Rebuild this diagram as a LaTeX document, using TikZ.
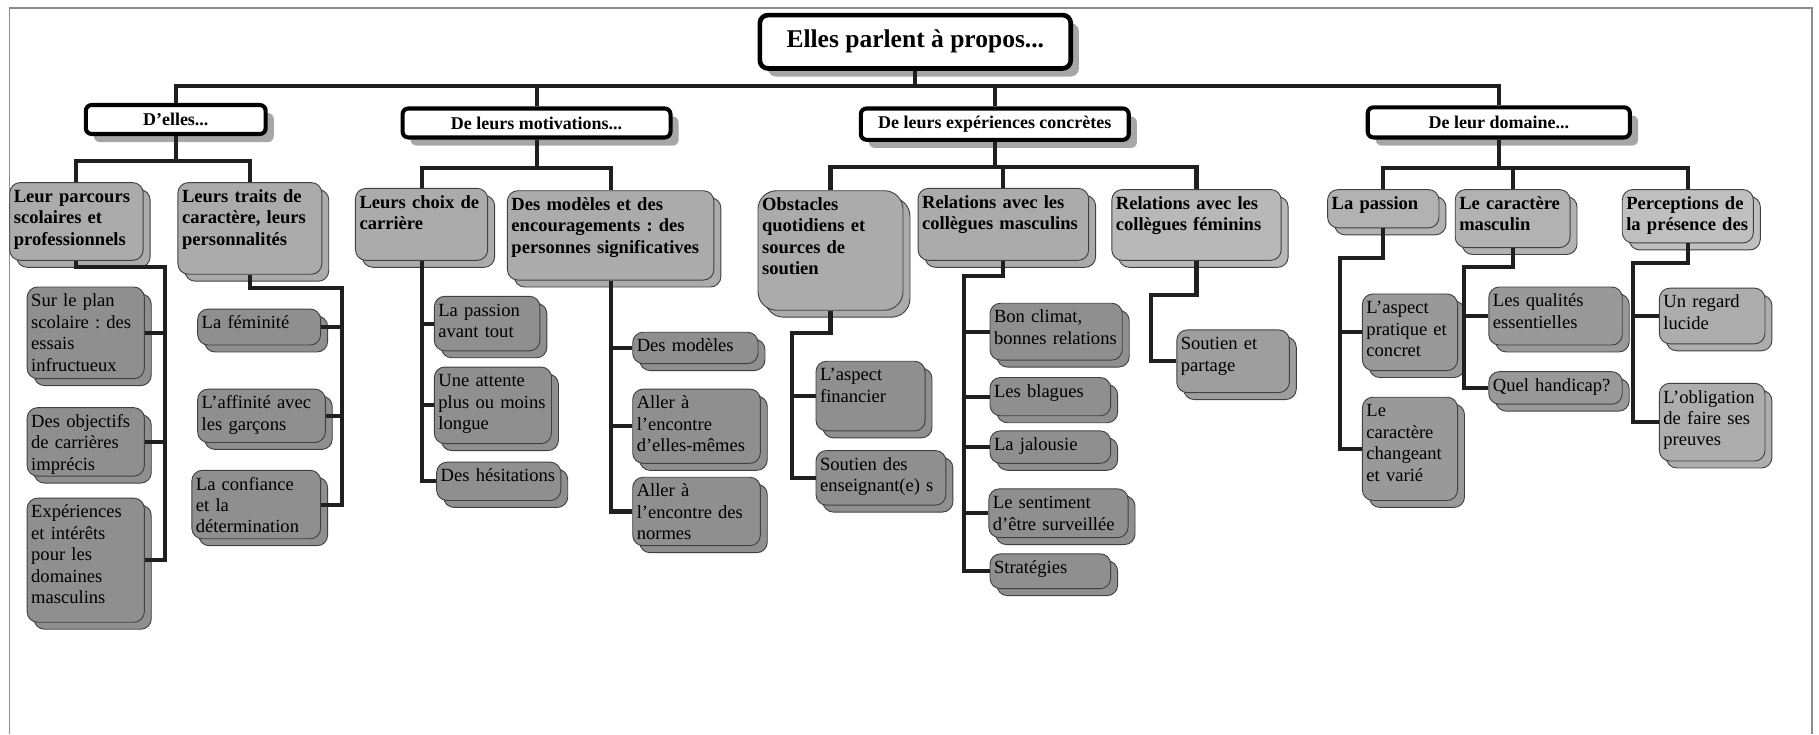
\documentclass[tikz,border=0pt]{standalone}
\usepackage{fontspec}
\setmainfont{Liberation Serif}
\usepackage{tikz}
\usetikzlibrary{shadows,positioning}
\frenchspacing

\tikzset{
  head/.style={draw=black, line width=4pt, rounded corners=7pt, fill=white, inner sep=0pt,
    font=\bfseries\fontsize{22}{24}\selectfont,
    drop shadow={shadow xshift=7pt, shadow yshift=-7pt, fill=black!35, opacity=1}},
  theme/.style={head, line width=3.5pt, rounded corners=5pt, font=\bfseries\fontsize{15.5}{17}\selectfont},
  topic/.style={draw=black!75, line width=0.8pt, fill=black!33, rounded corners=9pt, anchor=north west,
    align=left, inner sep=3.5pt, text height=13.5pt, font=\bfseries\fontsize{16}{18.5}\selectfont,
    copy shadow={shadow xshift=6pt, shadow yshift=-6pt}},
  leaf/.style={topic, fill=black!44, font=\fontsize{16}{18.5}\selectfont},
  link/.style={line width=3.5pt, black!88},
  frame/.style={line width=1.2pt, black!45}
}

\begin{document}
\begin{tikzpicture}[x=1pt,y=-1pt]
    \useasboundingbox (0,0) rectangle (1568,633);
    \draw[frame] (8,633) -- (8,7) -- (1562,7) -- (1562,633);

    \node[head, minimum width=268pt, minimum height=46pt] (top) at (789,36) {Elles parlent à propos...};

    \node[theme, minimum width=155pt, minimum height=25pt] (delles) at (151.5,103) {D'elles...};
    \node[theme, minimum width=231pt, minimum height=25pt] (motiv) at (462.5,106) {De leurs motivations...};
    \node[theme, minimum width=231pt, minimum height=27pt] (concr) at (857.5,107) {De leurs expériences concrètes};
    \node[theme, minimum width=226pt, minimum height=26pt] (domaine) at (1292,105.5) {De leur domaine...};

    \node[topic, text width=108pt, text depth=46.5pt] (parcours) at (8,157) {Leur parcours\\scolaires et\\professionnels};
    \node[topic, text width=117pt, text depth=58.5pt] (traits) at (153,157) {Leurs traits de\\caractère, leurs\\personnalités};
    \node[topic, text width=107pt, text depth=41.5pt] (choix) at (306,162) {Leurs choix de\\carrière};
    \node[topic, text width=171pt, text depth=56.5pt] (modeles) at (437,164) {Des modèles et des\\encouragements : des\\personnes significatives};
    \node[topic, text width=118pt, text depth=82.5pt, rounded corners=16pt] (obstacles) at (653,164) {Obstacles\\quotidiens et\\sources de\\soutien};
    \node[topic, text width=140pt, text depth=41.5pt] (relmasc) at (791,162) {Relations avec les\\collègues masculins};
    \node[topic, text width=139pt, text depth=40.5pt, fill=black!28] (relfem) at (958,163) {Relations avec les\\collègues féminins};
    \node[topic, text width=89pt, text depth=12.5pt, fill=black!30] (passion) at (1144,163) {La passion};
    \node[topic, text width=92pt, text depth=29.5pt, fill=black!30] (carmasc) at (1254,163) {Le caractère\\masculin};
    \node[topic, text width=106pt, text depth=25.5pt, fill=black!25] (percep) at (1398,163) {Perceptions de\\la présence des};

    \node[leaf, text width=94pt, text depth=58.5pt] (plan) at (23,247) {Sur le plan\\scolaire : des\\essais\\infructueux};
    \node[leaf, text width=94pt, text depth=38.5pt] (objectifs) at (23,351) {Des objectifs\\de carrières\\imprécis};
    \node[leaf, text width=94pt, text depth=86.5pt] (experiences) at (23,429) {Expériences\\et intérêts\\pour les\\domaines\\masculins};

    \node[leaf, text width=99pt, text depth=10.5pt] (feminite) at (170,266) {La féminité};
    \node[leaf, text width=103pt, text depth=25.5pt] (affinite) at (170,335) {L'affinité avec\\les garçons};
    \node[leaf, text width=104pt, text depth=38.5pt] (confiance) at (165,405) {La confiance\\et la\\détermination};

    \node[leaf, text width=84pt, text depth=26.5pt] (passav) at (374,255) {La passion\\avant tout};
    \node[leaf, text width=94pt, text depth=45.5pt] (attente) at (374,316) {Une attente\\plus ou moins\\longue};
    \node[leaf, text width=100pt, text depth=12.5pt] (hesit) at (376,398) {Des hésitations};

    \node[leaf, text width=101pt, text depth=6.5pt] (dmodeles) at (545,286) {Des modèles};
    \node[leaf, text width=103pt, text depth=43.5pt] (soimeme) at (545,335) {Aller à\\l'encontre\\d'elles-mêmes};
    \node[leaf, text width=103pt, text depth=38.5pt] (normes) at (545,411) {Aller à\\l'encontre des\\normes};

    \node[leaf, text width=87pt, text depth=39.5pt] (financier) at (703,311) {L'aspect\\financier};
    \node[leaf, text width=105pt, text depth=26.5pt] (enseign) at (703,388) {Soutien des\\enseignant(e) s};

    \node[leaf, text width=107pt, text depth=28.5pt] (climat) at (853,261) {Bon climat,\\bonnes relations};
    \node[leaf, text width=97pt, text depth=12.5pt] (blagues) at (853,325) {Les blagues};
    \node[leaf, text width=97pt, text depth=7.5pt] (jalousie) at (853,371) {La jalousie};
    \node[leaf, text width=113pt, text depth=21.5pt] (surveil) at (852,421) {Le sentiment\\d'être surveillée};
    \node[leaf, text width=97pt, text depth=9.5pt] (strat) at (853,477) {Stratégies};

    \node[leaf, text width=90pt, text depth=33.5pt, fill=black!38] (partage) at (1014,284) {Soutien et\\partage};

    \node[leaf, text width=75pt, text depth=45.5pt, fill=black!40] (pratique) at (1174,253) {L'aspect\\pratique et\\concret};
    \node[leaf, text width=75pt, text depth=68.5pt, fill=black!40] (changeant) at (1174,342) {Le\\caractère\\changeant\\et varié};
    \node[leaf, text width=108pt, text depth=29.5pt, fill=black!40] (qualites) at (1283,247) {Les qualités\\essentielles};
    \node[leaf, text width=108pt, text depth=7.5pt, fill=black!40] (handicap) at (1283,320) {Quel handicap?};
    \node[leaf, text width=84pt, text depth=27.5pt, fill=black!32] (regard) at (1430,248) {Un regard\\lucide};
    \node[leaf, text width=84pt, text depth=46.5pt, fill=black!32] (preuves) at (1430,330) {L'obligation\\de faire ses\\preuves};

    \coordinate (bus) at (789,74);
    \foreach \t in {delles,motiv,concr,domaine}
        \draw[link] (top.south) |- (bus) -| (\t.north);

    \coordinate (b1) at (151.5,139);
    \coordinate (b2) at (462.5,145);
    \coordinate (b3) at (857.5,144);
    \coordinate (b4) at (1292,145);
    \foreach \c in {parcours,traits} \draw[link] (delles.south) |- (b1) -| (\c.north);
    \foreach \c in {choix,modeles} \draw[link] (motiv.south) |- (b2) -| (\c.north);
    \foreach \c in {obstacles,relmasc,relfem} \draw[link] (concr.south) |- (b3) -| (\c.north);
    \foreach \c in {passion,carmasc,percep} \draw[link] (domaine.south) |- (b4) -| (\c.north);

    \coordinate (k1) at (142,230);
    \coordinate (k2) at (295,248);
    \coordinate (k3) at (683,287);
    \coordinate (k4) at (831,238);
    \coordinate (k5) at (992,254);
    \coordinate (k6) at (1155,222);
    \coordinate (k7) at (1262,230);
    \coordinate (k8) at (1408,227);
    \foreach \l in {plan,objectifs,experiences} \draw[link] (parcours.south) |- (k1) |- (\l.east);
    \foreach \l in {feminite,affinite,confiance} \draw[link] (traits.south) |- (k2) |- (\l.east);
    \foreach \l in {passav,attente,hesit} \draw[link] (choix.south) |- (\l.west);
    \foreach \l in {dmodeles,soimeme,normes} \draw[link] (modeles.south) |- (\l.west);
    \foreach \l in {financier,enseign} \draw[link] (obstacles.south) |- (k3) |- (\l.west);
    \foreach \l in {climat,blagues,jalousie,surveil,strat} \draw[link] (relmasc.south) |- (k4) |- (\l.west);
    \draw[link] (relfem.south) |- (k5) |- (partage.west);
    \foreach \l in {pratique,changeant} \draw[link] (passion.south) |- (k6) |- (\l.west);
    \foreach \l in {qualites,handicap} \draw[link] (carmasc.south) |- (k7) |- (\l.west);
    \foreach \l in {regard,preuves} \draw[link] (percep.south) |- (k8) |- (\l.west);
\end{tikzpicture}
\end{document}
